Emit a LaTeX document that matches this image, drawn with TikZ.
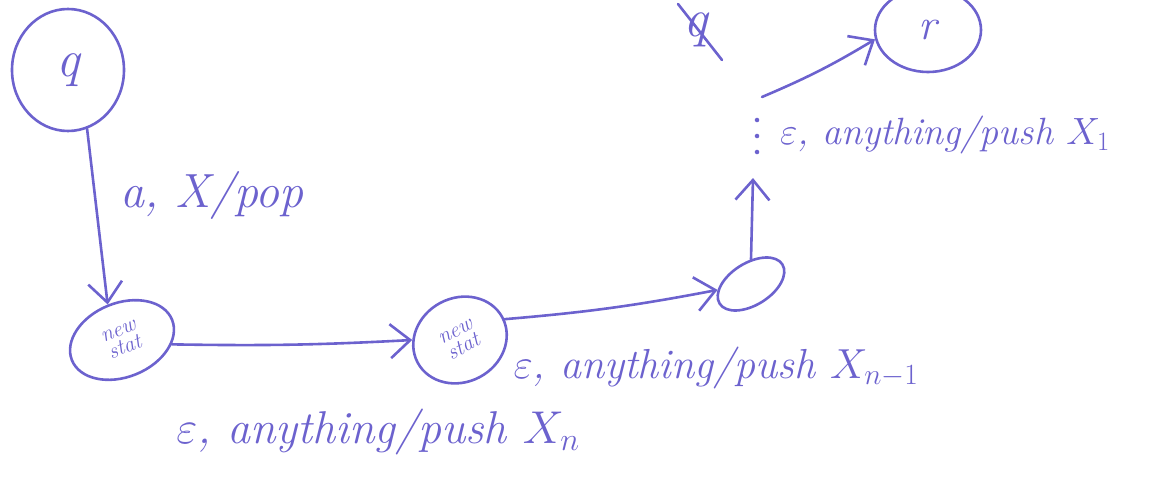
\RequirePackage{fix-cm}
\documentclass[tikz,border=0pt]{standalone}
\usetikzlibrary{arrows.meta,shapes.geometric}
\definecolor{ink}{RGB}{108,98,206}
\tikzset{
  ink/.style={draw=ink, line width=2.6pt, line cap=round, line join=round},
  st/.style={ink, ellipse, inner sep=0pt, text=ink},
  arr/.style={ink, -{Straight Barb[length=20pt, width=34pt, line width=2.6pt]}},
  lbl/.style={text=ink, inner sep=0pt, font=\fontsize{48}{52}\selectfont\itshape},
  small/.style={font=\fontsize{22}{18}\selectfont\itshape, align=center}
}
\begin{document}
\begin{tikzpicture}[x=1pt, y=-1pt]
\useasboundingbox (0,0) rectangle (1156,487);

% states
\node[st, minimum width=112pt, minimum height=122pt, font=\fontsize{52}{56}\selectfont\itshape] (q) at (68,70) {q};
\node[st, minimum width=108pt, minimum height=74pt, rotate=22, small] (n1) at (122,340) {new\\stat};
\node[st, minimum width=96pt, minimum height=84pt, rotate=28, small] (n2) at (460,340) {new\\stat};
\node[st, minimum width=74pt, minimum height=42pt, rotate=32] (n3) at (751,284) {};
\node[st, minimum width=106pt, minimum height=84pt, font=\fontsize{44}{48}\selectfont\itshape] (r) at (928,30) {r};

% crossed-out state name at the top
\node[text=ink, font=\fontsize{54}{58}\selectfont\itshape, inner sep=0pt] (qx) at (696,30) {q};
\coordinate (xa) at (678,4);
\coordinate (xb) at (722,60);
\draw[ink] (xa) -- (xb);

% elided chain of states
\coordinate (dotsbot) at (753,178);
\coordinate (dotstop) at (762,97);
\node[fill=ink, circle, inner sep=1.6pt] (d1) at (757,120) {};
\node[fill=ink, circle, inner sep=1.6pt] (d2) at (757,136) {};
\node[fill=ink, circle, inner sep=1.6pt] (d3) at (757,152) {};

% transitions
\draw[arr] (q.-72) -- (n1.90);
\draw[arr] (n1.-27) to[bend right=2] (n2.152);
\draw[arr] (n2.-3) to[bend left=-3] (n3.158);
\draw[arr] (n3.58) -- (dotsbot);
\draw[arr] (dotstop) to[bend left=-4] (r.190);

% transition labels
\node[lbl] (l1) at (212,195) {a, X/pop};
\node[lbl, font=\fontsize{46}{50}\selectfont\itshape] (l2) at (378,432) {$\varepsilon$, anything/push $X_n$};
\node[lbl, font=\fontsize{42}{46}\selectfont\itshape] (l3) at (716,368) {$\varepsilon$, anything/push $X_{n-1}$};
\node[lbl, font=\fontsize{38}{42}\selectfont\itshape] (l4) at (945,135) {$\varepsilon$, anything/push $X_1$};
\end{tikzpicture}
\end{document}
